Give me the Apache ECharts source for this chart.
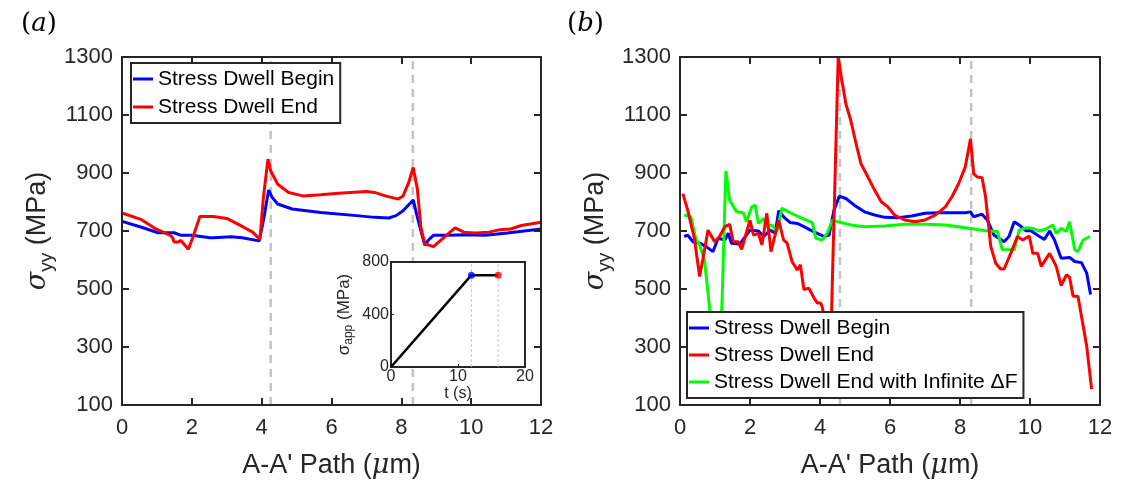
<!DOCTYPE html>
<html>
<head>
<meta charset="utf-8">
<script src="https://cdn.jsdelivr.net/npm/echarts@6/dist/echarts.min.js"></script>
<style>
  html, body { margin: 0; padding: 0; background: #fff; }
  #chart { width: 1121px; height: 486px; }
</style>
</head>
<body>
<div id="chart"></div>
<script>
// panel (a)
const aBeginX = [0, 0.56, 1.03, 1.49, 1.69, 2.0, 2.52, 2.62, 3.13, 3.44, 3.93, 4.05, 4.2, 4.3, 4.46, 4.87, 5.69, 6.72, 7.23, 7.64, 7.85, 8.05, 8.34, 8.46, 8.67, 8.77, 8.92, 9.36, 9.79, 10.41, 11.03, 12.0]
const aBeginY = [733, 713, 694, 694, 685, 685, 677, 677, 680, 677, 666, 736, 841, 816, 793, 776, 764, 753, 747, 745, 753, 770, 807, 747, 651, 668, 685, 685, 687, 685, 693, 707]
const aEndX = [0, 0.56, 0.97, 1.38, 1.45, 1.49, 1.62, 1.68, 1.9, 2.05, 2.23, 2.62, 2.95, 3.03, 3.47, 3.74, 3.95, 4.05, 4.18, 4.26, 4.46, 4.77, 5.18, 5.69, 6.2, 7.0, 7.23, 7.54, 7.91, 8.05, 8.21, 8.34, 8.46, 8.56, 8.67, 8.92, 9.23, 9.54, 9.79, 10.1, 10.51, 10.8, 11.13, 11.44, 12.0]
const aEndY = [762, 739, 707, 685, 677, 662, 662, 668, 637, 685, 750, 750, 744, 742, 714, 696, 671, 816, 948, 907, 861, 833, 821, 825, 830, 836, 833, 821, 810, 821, 867, 919, 844, 713, 656, 646, 679, 711, 696, 693, 696, 704, 707, 719, 730]
const aDash = [4.26, 8.33]

// panel (b)
const bBeginX = [0.12, 0.22, 0.37, 0.56, 0.75, 0.94, 1.09, 1.28, 1.38, 1.47, 1.71, 2.0, 2.24, 2.39, 2.58, 2.72, 2.82, 2.96, 3.15, 3.35, 3.54, 3.73, 3.92, 4.12, 4.26, 4.4, 4.55, 4.74, 4.98, 5.27, 5.56, 5.85, 6.23, 6.62, 7.0, 7.38, 7.77, 8.15, 8.3, 8.39, 8.63, 8.78, 8.97, 9.26, 9.4, 9.55, 9.69, 9.88, 10.03, 10.27, 10.41, 10.56, 10.7, 10.89, 11.13, 11.28, 11.47, 11.62, 11.73]
const bBeginY = [681, 686, 663, 658, 646, 629, 675, 669, 692, 658, 655, 703, 700, 681, 703, 692, 770, 749, 729, 726, 715, 703, 692, 681, 686, 772, 820, 812, 789, 766, 755, 747, 746, 752, 761, 763, 763, 763, 766, 749, 758, 738, 686, 663, 681, 732, 721, 701, 701, 681, 671, 700, 669, 606, 609, 595, 591, 555, 481]
const bEndX = [0.08, 0.22, 0.41, 0.56, 0.65, 0.8, 0.99, 1.13, 1.28, 1.42, 1.52, 1.66, 1.76, 2.0, 2.1, 2.24, 2.34, 2.48, 2.6, 2.82, 2.96, 3.06, 3.2, 3.35, 3.44, 3.54, 3.68, 3.83, 3.92, 4.02, 4.07, 4.2, 4.33, 4.52, 4.6, 4.74, 4.88, 5.03, 5.17, 5.37, 5.56, 5.75, 5.94, 6.13, 6.42, 6.71, 7.0, 7.29, 7.58, 7.77, 7.96, 8.15, 8.3, 8.39, 8.49, 8.63, 8.73, 8.88, 9.02, 9.16, 9.26, 9.45, 9.64, 9.79, 9.98, 10.08, 10.22, 10.32, 10.56, 10.75, 10.89, 11.04, 11.13, 11.23, 11.37, 11.52, 11.62, 11.76]
const bEndY = [829, 772, 675, 543, 600, 703, 663, 681, 715, 723, 663, 663, 637, 737, 686, 692, 652, 761, 629, 737, 669, 658, 595, 566, 583, 498, 503, 469, 452, 452, 435, 330, 420, 1300, 1237, 1138, 1081, 1001, 932, 886, 841, 801, 783, 755, 738, 732, 738, 755, 783, 818, 863, 921, 1018, 898, 886, 884, 818, 646, 589, 569, 569, 623, 681, 669, 683, 623, 623, 578, 623, 578, 512, 549, 541, 475, 475, 372, 303, 155]
const bInfX = [0.12, 0.31, 0.46, 0.56, 0.7, 0.85, 0.93, 1.14, 1.2, 1.31, 1.42, 1.62, 1.81, 1.9, 2.05, 2.15, 2.24, 2.39, 2.48, 2.62, 2.77, 2.91, 3.15, 3.44, 3.78, 3.88, 4.07, 4.21, 4.36, 4.5, 4.88, 5.27, 5.85, 6.42, 7.0, 7.58, 8.15, 8.73, 9.07, 9.21, 9.55, 9.69, 9.88, 10.08, 10.27, 10.46, 10.65, 10.75, 10.89, 11.04, 11.13, 11.28, 11.37, 11.52, 11.71]
const bInfY = [755, 749, 669, 652, 600, 429, 300, 300, 450, 907, 806, 766, 763, 732, 783, 789, 726, 743, 715, 721, 698, 778, 763, 746, 729, 675, 669, 694, 738, 732, 721, 715, 717, 723, 723, 721, 711, 701, 698, 635, 635, 703, 711, 709, 700, 707, 721, 692, 709, 698, 732, 635, 629, 669, 681]
const bDash = [4.57, 8.32]

// inset: applied stress history
const insetT = [0, 12, 16]
const insetS = [0, 700, 700]
const insetDash = [12, 16]

const pathTicks = { min: 0, max: 12, interval: 2 }
const stressTicks = { min: 100, max: 1300, interval: 200 }

const zip = (xs, ys) => xs.map((x, i) => [x, ys[i]])

const INK = '#262626'
const SANS = 'Liberation Sans'
const plain = v => String(v)

function mainX(gridIndex, top) {
  return {
    type: 'value', gridIndex, position: top ? 'top' : 'bottom',
    ...pathTicks,
    axisLine: { show: true, onZero: false, lineStyle: { color: INK, width: 2 } },
    axisTick: { show: true, inside: true, length: 7, lineStyle: { color: INK, width: 2 } },
    splitLine: { show: false },
    axisLabel: { show: !top, fontSize: 22, color: INK, fontFamily: SANS, margin: 12, formatter: plain },
    name: top ? '' : "{t|A-A' Path (}{m|μ}{t|m)}",
    nameLocation: 'middle',
    nameGap: 47,
    nameTextStyle: {
      color: INK,
      rich: {
        t: { fontSize: 27, fontFamily: SANS, color: INK },
        m: { fontSize: 27, fontFamily: 'DejaVu Serif', fontStyle: 'italic', color: INK }
      }
    },
    z: 3
  }
}

function mainY(gridIndex, right) {
  return {
    type: 'value', gridIndex, position: right ? 'right' : 'left',
    ...stressTicks,
    axisLine: { show: true, onZero: false, lineStyle: { color: INK, width: 2 } },
    axisTick: { show: true, inside: true, length: 7, lineStyle: { color: INK, width: 2 } },
    splitLine: { show: false },
    axisLabel: { show: !right, fontSize: 22, color: INK, fontFamily: SANS, margin: 9, formatter: plain },
    name: right ? '' : '{s|σ}{sub|yy}{t| (MPa)}',
    nameLocation: 'middle',
    nameRotate: 90,
    nameGap: 66,
    nameTextStyle: {
      color: INK,
      rich: {
        s: { fontSize: 27, fontFamily: 'DejaVu Serif', fontStyle: 'italic', color: INK, lineHeight: 36 },
        sub: { fontSize: 19, fontFamily: SANS, color: INK, verticalAlign: 'bottom', lineHeight: 18 },
        t: { fontSize: 27, fontFamily: SANS, color: INK, lineHeight: 36 }
      }
    },
    z: 3
  }
}

function curve(name, color, xi, data) {
  return {
    name, type: 'line', xAxisIndex: xi, yAxisIndex: xi,
    data, showSymbol: false, symbol: 'none',
    lineStyle: { color, width: 3 }, itemStyle: { color },
    z: 2
  }
}

function dashLine(xi, x, lo, hi, width, dash, color) {
  return {
    type: 'line', xAxisIndex: xi, yAxisIndex: xi,
    data: [[x, lo], [x, hi]], showSymbol: false, symbol: 'none',
    lineStyle: { color, width, type: dash }, silent: true, z: 1
  }
}

const legendText = { fontSize: 21, fontFamily: SANS, color: '#000', lineHeight: 24 }
const panelTag = {
  p: { fontSize: 26, fontFamily: 'DejaVu Serif', fontWeight: 'normal', color: '#000' },
  i: { fontSize: 26, fontFamily: 'DejaVu Serif', fontStyle: 'italic', fontWeight: 'normal', color: '#000' }
}

const option = {
  animation: false,
  backgroundColor: '#fff',
  title: [
    { text: '{p|(}{i|a}{p|)}', left: 16, top: 6, textStyle: { fontWeight: 'normal', rich: panelTag } },
    { text: '{p|(}{i|b}{p|)}', left: 562, top: 6, textStyle: { fontWeight: 'normal', rich: panelTag } }
  ],
  grid: [
    { left: 122, top: 57, width: 419, height: 348, show: true, borderColor: INK, borderWidth: 2, backgroundColor: 'transparent', outerBoundsMode: 'none', containLabel: false },
    { left: 680, top: 57, width: 420, height: 348, show: true, borderColor: INK, borderWidth: 2, backgroundColor: 'transparent', outerBoundsMode: 'none', containLabel: false },
    { left: 391, top: 262, width: 134, height: 105, show: true, borderColor: INK, borderWidth: 2, backgroundColor: '#fff', z: 1.5, outerBoundsMode: 'none', containLabel: false }
  ],
  xAxis: [
    mainX(0, false), mainX(0, true), mainX(1, false), mainX(1, true),
    {
      type: 'value', gridIndex: 2, min: 0, max: 20, interval: 10,
      axisLine: { show: false }, splitLine: { show: false },
      axisTick: { show: true, inside: true, length: 3, lineStyle: { color: INK } },
      axisLabel: { fontSize: 16, color: INK, fontFamily: SANS, margin: 2 },
      name: 't (s)', nameLocation: 'middle', nameGap: 18,
      nameTextStyle: { fontSize: 16, color: INK, fontFamily: SANS },
      z: 3
    }
  ],
  yAxis: [
    mainY(0, false), mainY(0, true), mainY(1, false), mainY(1, true),
    {
      type: 'value', gridIndex: 2, min: 0, max: 800, interval: 400,
      axisLine: { show: false }, splitLine: { show: false },
      axisTick: { show: true, inside: true, length: 3, lineStyle: { color: INK } },
      axisLabel: { fontSize: 16, color: INK, fontFamily: SANS, margin: 2 },
      name: '{s|σ}{sub|app}{t| (MPa)}', nameLocation: 'middle', nameRotate: 90, nameGap: 36,
      nameTextStyle: {
        color: INK,
        rich: {
          s: { fontSize: 17, fontFamily: SANS, color: INK, lineHeight: 22 },
          sub: { fontSize: 12, fontFamily: SANS, color: INK, verticalAlign: 'bottom', lineHeight: 12 },
          t: { fontSize: 17, fontFamily: SANS, color: INK, lineHeight: 22 }
        }
      },
      z: 3
    }
  ],
  legend: [
    {
      data: ['Stress Dwell Begin', 'Stress Dwell End'],
      orient: 'vertical', left: 131, top: 63,
      padding: [4, 6, 4, 2], itemGap: 4, itemWidth: 20, itemHeight: 3, itemTextGap: 3,
      icon: 'rect', selectedMode: false,
      backgroundColor: '#fff', borderColor: INK, borderWidth: 2, borderRadius: 0,
      textStyle: legendText, z: 6
    },
    {
      data: ['Stress Dwell Begin', 'Stress Dwell End', 'Stress Dwell End with Infinite ΔF'],
      orient: 'vertical', left: 687, top: 312,
      padding: [4, 6, 4, 2], itemGap: 3, itemWidth: 20, itemHeight: 3, itemTextGap: 3,
      icon: 'rect', selectedMode: false,
      backgroundColor: '#fff', borderColor: INK, borderWidth: 2, borderRadius: 0,
      textStyle: legendText, z: 6
    }
  ],
  series: [
    ...aDash.map(x => dashLine(0, x, stressTicks.min, stressTicks.max, 2.5, [8, 6], '#c4c4c4')),
    curve('Stress Dwell Begin', '#0000ff', 0, zip(aBeginX, aBeginY)),
    curve('Stress Dwell End', '#ff0000', 0, zip(aEndX, aEndY)),

    ...bDash.map(x => dashLine(2, x, stressTicks.min, stressTicks.max, 2.5, [8, 6], '#c4c4c4')),
    curve('Stress Dwell Begin', '#0000ff', 2, zip(bBeginX, bBeginY)),
    curve('Stress Dwell End with Infinite ΔF', '#00ff00', 2, zip(bInfX, bInfY)),
    curve('Stress Dwell End', '#ff0000', 2, zip(bEndX, bEndY)),

    ...insetDash.map(x => ({ ...dashLine(4, x, 0, 800, 1, [3, 2], '#c8c8c8'), z: 2 })),
    {
      type: 'line', xAxisIndex: 4, yAxisIndex: 4, data: zip(insetT, insetS),
      showSymbol: false, symbol: 'none', lineStyle: { color: '#000', width: 2.5 }, z: 3
    },
    {
      type: 'scatter', xAxisIndex: 4, yAxisIndex: 4, data: [[insetT[1], insetS[1]]],
      symbolSize: 7, itemStyle: { color: '#0000ff' }, z: 4
    },
    {
      type: 'scatter', xAxisIndex: 4, yAxisIndex: 4, data: [[insetT[2], insetS[2]]],
      symbolSize: 7, itemStyle: { color: '#ff0000' }, z: 4
    }
  ]
}

const chart = echarts.init(document.getElementById('chart'))
chart.setOption(option)
</script>
</body>
</html>
